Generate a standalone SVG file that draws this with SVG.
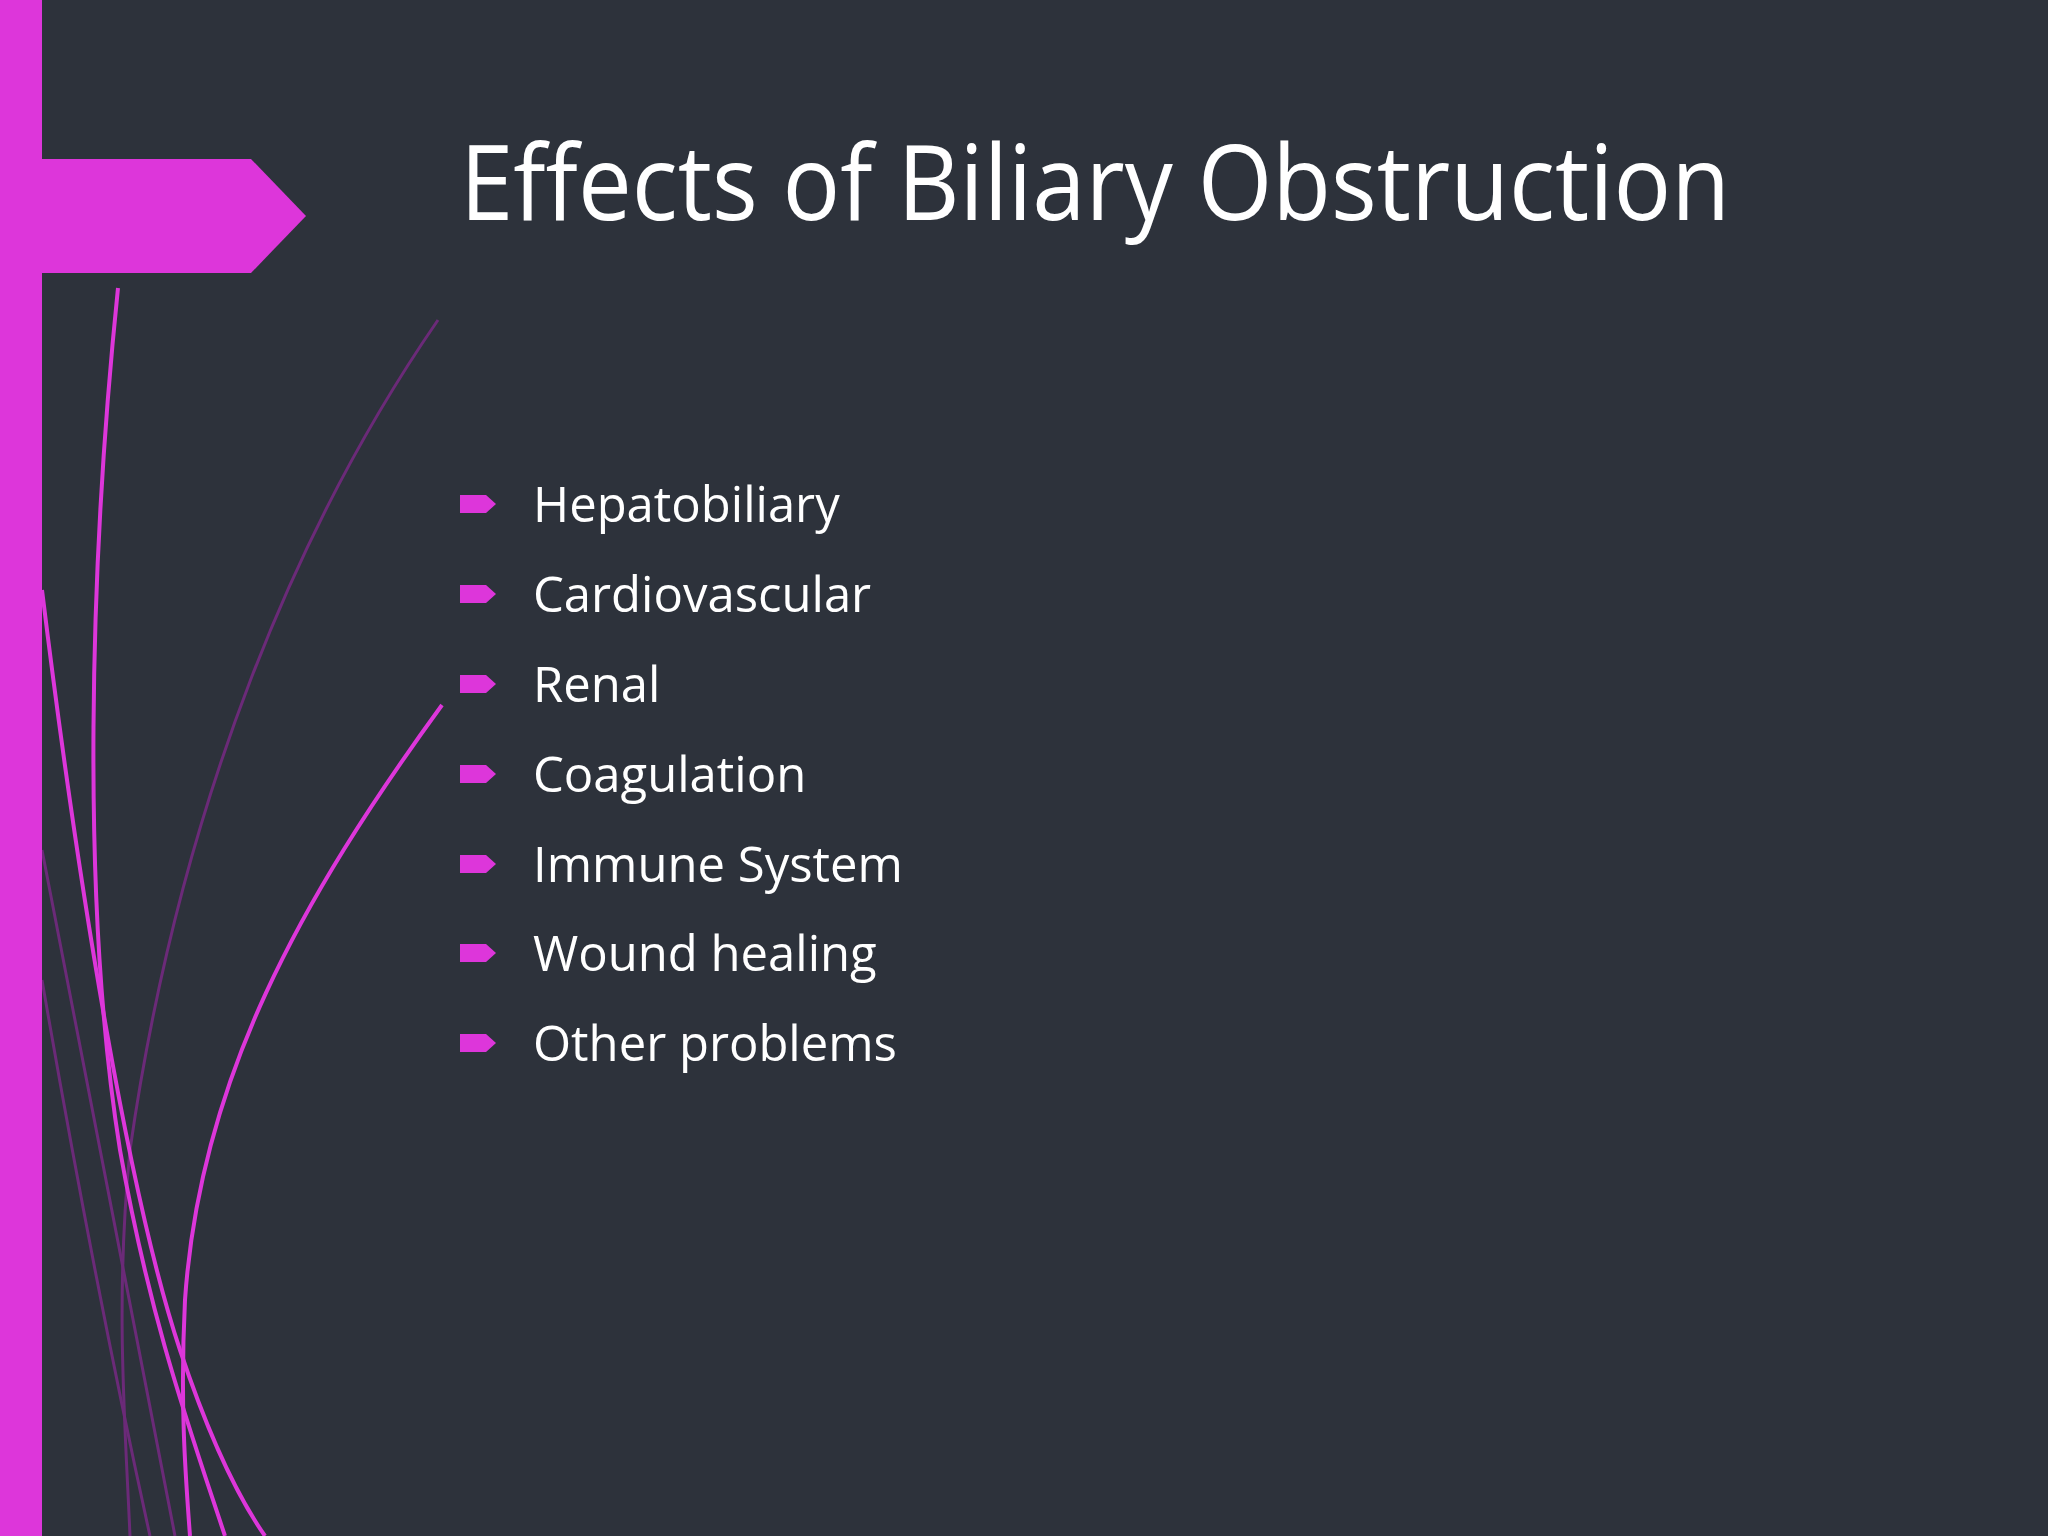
<svg xmlns="http://www.w3.org/2000/svg" width="2048" height="1536" viewBox="0 0 2048 1536">
<style>
.b{fill:#ffffff;font-family:"Open Sans","Noto Sans",sans-serif;font-size:49px}
.m{fill:#dd36da}
.c{fill:none;stroke:#dd36da;stroke-width:4}
.d{fill:none;stroke:#6b2a78;stroke-width:3}
</style>
<rect width="2048" height="1536" fill="#2d323b"/>
<g id="decor">
<path class="d" d="M438,320 C300,520 180,800 130,1150 C115,1300 125,1420 130,1536"/>
<path class="d" d="M42,850 C90,1100 140,1350 175,1536"/>
<path class="d" d="M42,980 C80,1200 120,1400 150,1536"/>
<path class="c" d="M118,288 C90,560 80,900 120,1150 C150,1320 190,1430 225,1536"/>
<path class="c" d="M42,590 C80,900 130,1200 180,1350 C210,1440 240,1500 265,1536"/>
<path class="c" d="M442,705 C300,900 200,1080 185,1300 C180,1400 185,1470 190,1536"/>
<rect class="m" x="0" y="0" width="42" height="1536"/>
<polygon class="m" points="0,159 251,159 306,216 251,273 0,273"/>
</g>
<g id="title"><text x="460" y="220" fill="#fff" font-family="'Open Sans','Noto Sans',sans-serif" font-size="104" textLength="1270" lengthAdjust="spacingAndGlyphs">Effects of Biliary Obstruction</text></g>
<defs><polygon id="bl" class="m" points="0,-9 26,-9 36,0 26,9 0,9"/></defs>
<g id="bullets">
<use href="#bl" x="460" y="504"/><text class="b" x="533" y="522">Hepatobiliary</text>
<use href="#bl" x="460" y="594"/><text class="b" x="533" y="612">Cardiovascular</text>
<use href="#bl" x="460" y="684"/><text class="b" x="533" y="702">Renal</text>
<use href="#bl" x="460" y="774"/><text class="b" x="533" y="792">Coagulation</text>
<use href="#bl" x="460" y="864"/><text class="b" x="533" y="882">Immune System</text>
<use href="#bl" x="460" y="953"/><text class="b" x="533" y="971">Wound healing</text>
<use href="#bl" x="460" y="1043"/><text class="b" x="533" y="1061">Other problems</text>
</g>
</svg>
